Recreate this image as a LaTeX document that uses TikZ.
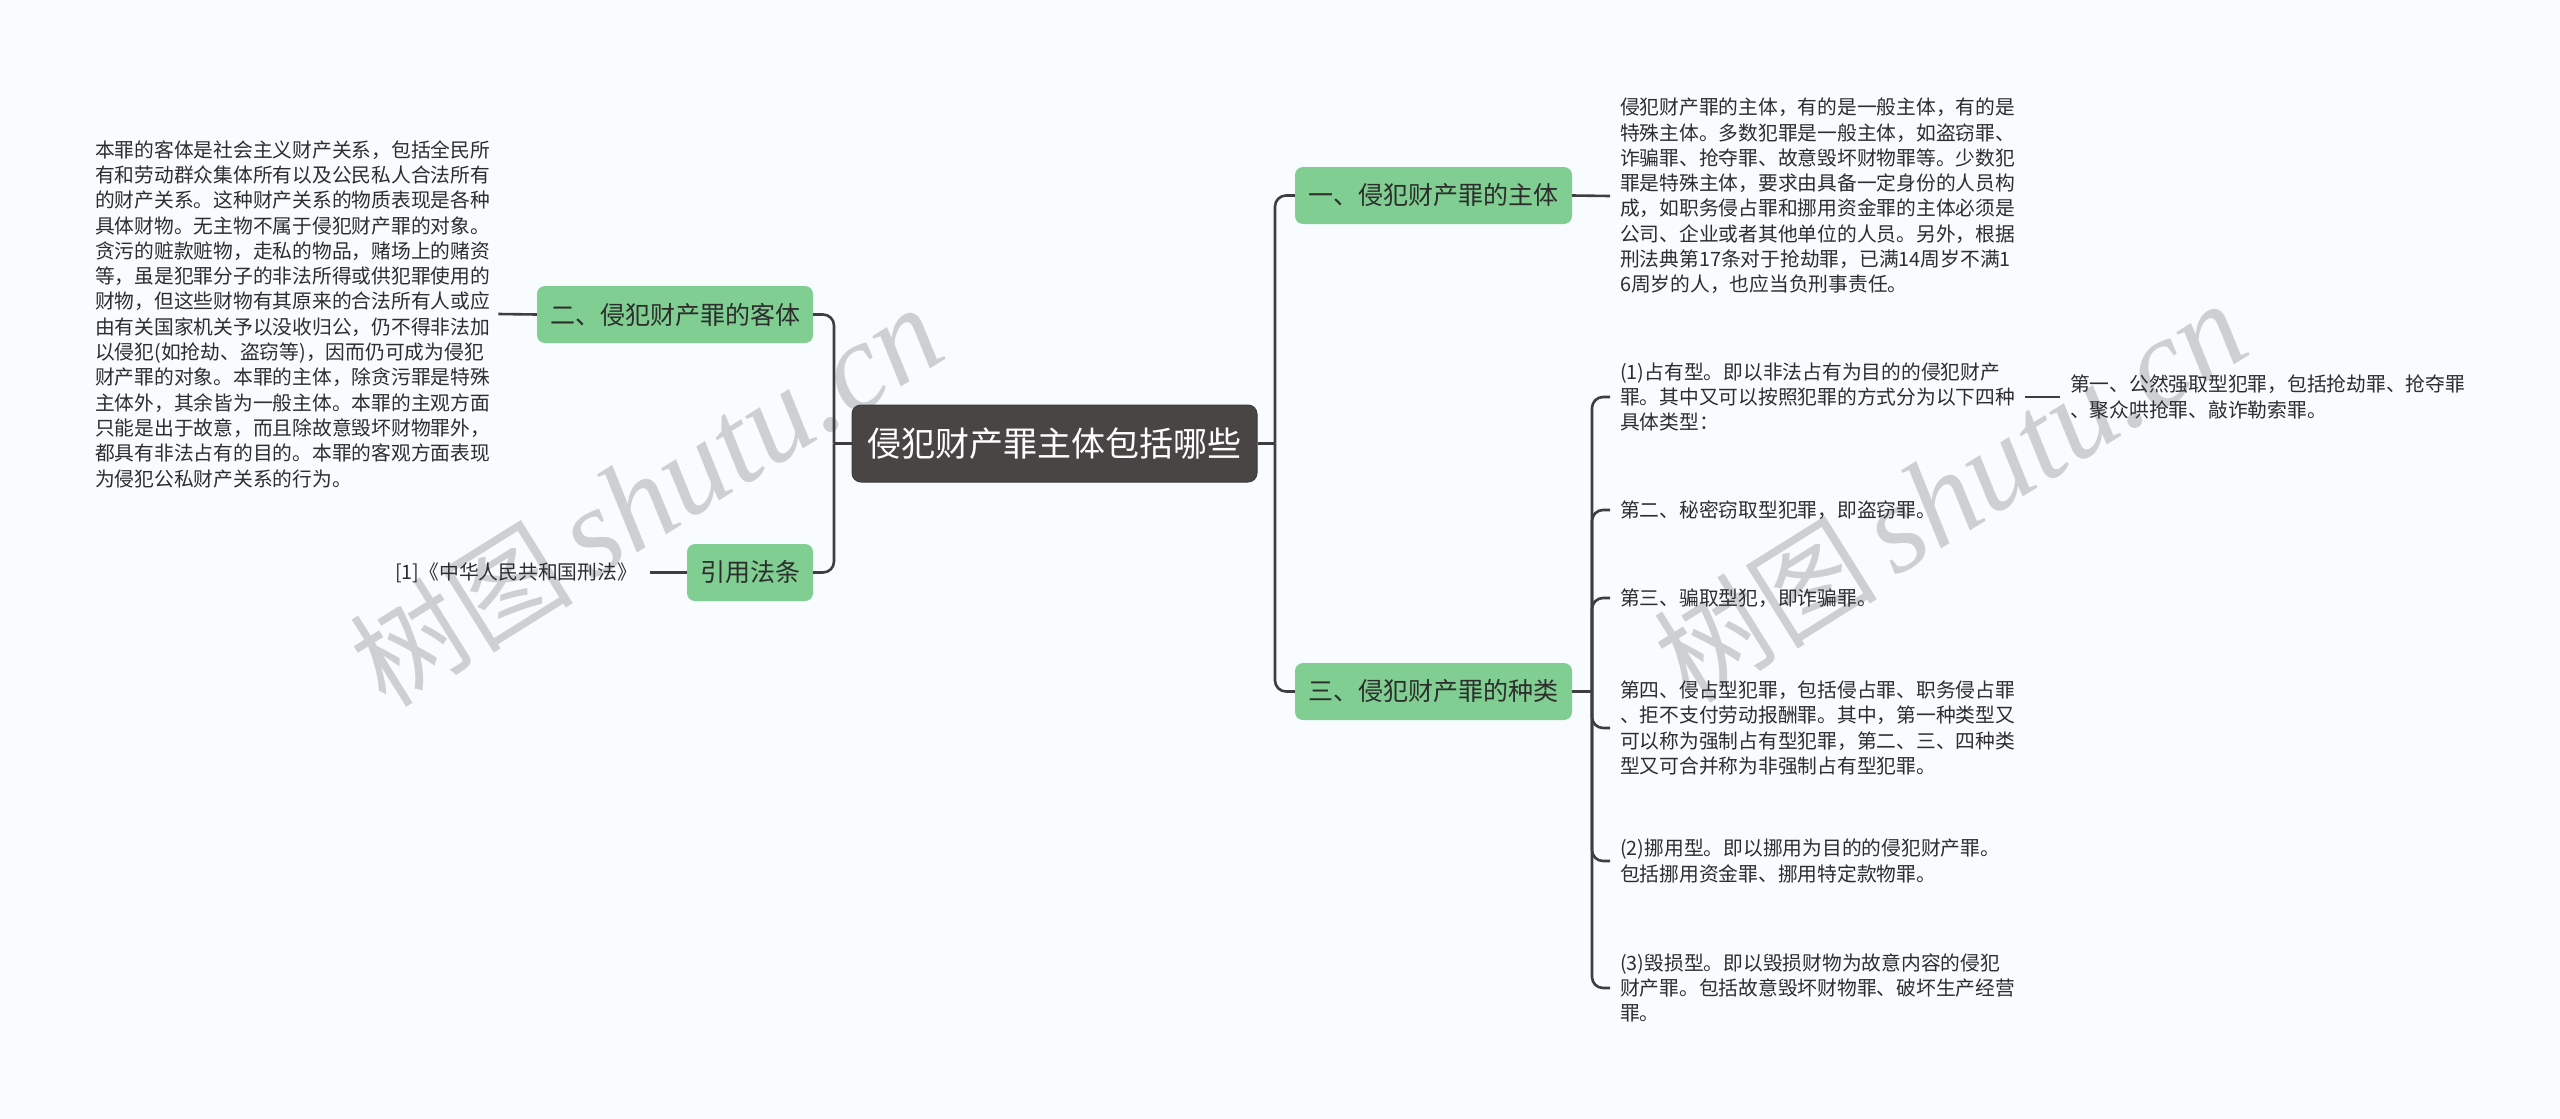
\documentclass[tikz,border=0pt]{standalone}
\usepackage{fontspec}
\setmainfont{Noto Sans CJK SC}
\newfontfamily\wmlatin{Liberation Serif}
\definecolor{bgc}{RGB}{248,252,255}
\definecolor{greenbox}{RGB}{128,206,145}
\definecolor{rootgray}{RGB}{74,69,69}
\definecolor{linegray}{RGB}{62,62,62}
\definecolor{textgray}{RGB}{45,45,45}
\definecolor{wmgray}{RGB}{205,208,210}
\begin{document}
\begin{tikzpicture}[x=1pt,y=-1pt,
  conn/.style={draw=linegray,line width=2.6pt,rounded corners=11pt},
  gbox/.style={fill=greenbox,rounded corners=8pt,minimum height=57pt,inner sep=0pt,text=textgray,font=\fontsize{25}{30}\selectfont},
  rootbox/.style={fill=rootgray,draw=rootgray!85!black,line width=1pt,rounded corners=9pt,minimum width=405pt,minimum height=77pt,inner sep=0pt,text=white,font=\fontsize{34}{40}\selectfont},
  txt/.style={font=\fontsize{19.75}{25.3}\selectfont,text=textgray,align=left,inner sep=0pt,anchor=west},
  wm/.style={text=wmgray,rotate=32,inner sep=0pt}
]
\useasboundingbox (0,0) rectangle (2560,1119);
\fill[bgc] (0,0) rectangle (2560,1119);

% watermarks
\node[wm] (wmA) at (646,497) {\fontsize{112}{112}\selectfont 树图\,{\wmlatin\itshape\fontsize{126}{126}\selectfont shutu.cn}};
\node[wm] (wmB) at (1950,493) {\fontsize{112}{112}\selectfont 树图\,{\wmlatin\itshape\fontsize{126}{126}\selectfont shutu.cn}};

% main nodes
\node[rootbox] (root) at (1054.5,443.5) {侵犯财产罪主体包括哪些};
\node[gbox,minimum width=277pt] (n1) at (1433.5,195.5) {一、侵犯财产罪的主体};
\node[gbox,minimum width=277pt] (n3) at (1433.5,691.5) {三、侵犯财产罪的种类};
\node[gbox,minimum width=276pt] (n2) at (675,314.5) {二、侵犯财产罪的客体};
\node[gbox,minimum width=126pt] (nref) at (750,572.5) {引用法条};

% left texts
\node[txt] (lt) at (95,314) {本罪的客体是社会主义财产关系，包括全民所\\
有和劳动群众集体所有以及公民私人合法所有\\
的财产关系。这种财产关系的物质表现是各种\\
具体财物。无主物不属于侵犯财产罪的对象。\\
贪污的赃款赃物，走私的物品，赌场上的赌资\\
等，虽是犯罪分子的非法所得或供犯罪使用的\\
财物，但这些财物有其原来的合法所有人或应\\
由有关国家机关予以没收归公，仍不得非法加\\
以侵犯(如抢劫、盗窃等)，因而仍可成为侵犯\\
财产罪的对象。本罪的主体，除贪污罪是特殊\\
主体外，其余皆为一般主体。本罪的主观方面\\
只能是出于故意，而且除故意毁坏财物罪外，\\
都具有非法占有的目的。本罪的客观方面表现\\
为侵犯公私财产关系的行为。};
\node[txt,anchor=east] (rt) at (637,572.5) {[1]《中华人民共和国刑法》};

% right texts
\node[txt] (t1) at (1620,196) {侵犯财产罪的主体，有的是一般主体，有的是\\
特殊主体。多数犯罪是一般主体，如盗窃罪、\\
诈骗罪、抢夺罪、故意毁坏财物罪等。少数犯\\
罪是特殊主体，要求由具备一定身份的人员构\\
成，如职务侵占罪和挪用资金罪的主体必须是\\
公司、企业或者其他单位的人员。另外，根据\\
刑法典第17条对于抢劫罪，已满14周岁不满1\\
6周岁的人，也应当负刑事责任。};
\node[txt] (c1) at (1620,397) {(1)占有型。即以非法占有为目的的侵犯财产\\
罪。其中又可以按照犯罪的方式分为以下四种\\
具体类型：};
\node[txt] (c1a) at (2070,397) {第一、公然强取型犯罪，包括抢劫罪、抢夺罪\\
、聚众哄抢罪、敲诈勒索罪。};
\node[txt] (c2) at (1620,510) {第二、秘密窃取型犯罪，即盗窃罪。};
\node[txt] (c3) at (1620,598) {第三、骗取型犯，即诈骗罪。};
\node[txt] (c4) at (1620,728) {第四、侵占型犯罪，包括侵占罪、职务侵占罪\\
、拒不支付劳动报酬罪。其中，第一种类型又\\
可以称为强制占有型犯罪，第二、三、四种类\\
型又可合并称为非强制占有型犯罪。};
\node[txt] (c5) at (1620,861) {(2)挪用型。即以挪用为目的的侵犯财产罪。\\
包括挪用资金罪、挪用特定款物罪。};
\node[txt] (c6) at (1620,988) {(3)毁损型。即以毁损财物为故意内容的侵犯\\
财产罪。包括故意毁坏财物罪、破坏生产经营\\
罪。};

% junctions
\coordinate (jl) at (834,443.5);
\coordinate (jr) at (1275,443.5);
\coordinate (j3) at (1592,691.5);

% connectors
\draw[conn] (root.west) -- (jl);
\draw[conn] (n2.east) -| (jl);
\draw[conn] (nref.east) -| (jl);
\draw[conn] (root.east) -- (jr);
\draw[conn] (n1.west) -| (jr);
\draw[conn] (n3.west) -| (jr);
\draw[conn] ([xshift=8pt]lt.east) -- (n2.west);
\draw[conn] ([xshift=13pt]rt.east) -- (nref.west);
\draw[conn] (n1.east) -- ([xshift=-10pt]t1.west);
\draw[conn] (n3.east) -- (j3);
\draw[conn] ([xshift=-10pt]c1.west) -| (j3);
\draw[conn] ([xshift=-10pt]c2.west) -| (j3);
\draw[conn] ([xshift=-10pt]c3.west) -| (j3);
\draw[conn] ([xshift=-10pt]c4.west) -| (j3);
\draw[conn] ([xshift=-10pt]c5.west) -| (j3);
\draw[conn] ([xshift=-10pt]c6.west) -| (j3);
\draw[conn] ([xshift=10pt]c1.east) -- ([xshift=-10pt]c1a.west);
\end{tikzpicture}
\end{document}
